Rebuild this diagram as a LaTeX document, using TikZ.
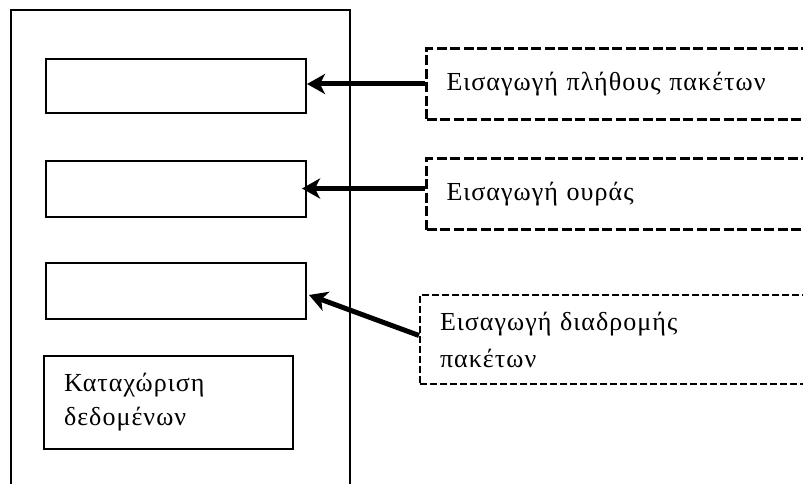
\documentclass[tikz,border=0pt]{standalone}
\usepackage{fontspec}
\setmainfont{Liberation Serif}[LetterSpace=4]
\usetikzlibrary{arrows.meta}
\begin{document}
\begin{tikzpicture}[x=1pt,y=-1pt,
  frame/.style={line width=1.8pt},
  inbox/.style={draw, line width=2pt, anchor=north west, inner sep=0pt,
    minimum width=260pt, minimum height=55pt},
  databox/.style={draw, line width=2pt, anchor=north west, inner xsep=20pt,
    minimum width=249pt, minimum height=93pt, text width=209pt, align=left,
    font=\fontsize{26}{34}\selectfont},
  inputbox/.style={draw, line width=3pt, dash pattern=on 10pt off 3.5pt,
    anchor=north west, inner xsep=20pt, minimum width=420pt,
    text width=380pt, align=left, font=\fontsize{26}{37}\selectfont},
  thinbox/.style={inputbox, line width=2pt, dash pattern=on 7pt off 3pt},
  arr/.style={line width=5pt, -{Stealth[length=18pt,width=20pt,inset=5pt]}}
]
\useasboundingbox (0,0) rectangle (803,484);
\clip (0,0) rectangle (803,484);
\fill[white] (0,0) rectangle (803,484);
% main frame (open at the bottom)
\draw[frame] (11,495) -- (11,10) -- (350,10) -- (350,495);
% inner boxes
\node[inbox, minimum height=54pt] (b1) at (45,58) {};
\node[inbox, minimum height=56pt] (b2) at (45,160) {};
\node[inbox, minimum height=56pt] (b3) at (45,262) {};
\node[databox] (b4) at (43,355) {Καταχώριση\\δεδομένων};
% input boxes
\node[inputbox, minimum height=71pt] (ia) at (425,47) {Εισαγωγή πλήθους πακέτων};
\node[inputbox, minimum height=71pt] (ib) at (425,157) {Εισαγωγή ουράς};
\node[thinbox, minimum height=89pt] (ic) at (419,294) {Εισαγωγή διαδρομής\\πακέτων};
% arrows
\draw[arr] (ia.west) -- (ia.west -| b1.east);
\draw[arr] ([yshift=5.5pt]ib.west) -- ([yshift=5.5pt,xshift=-5pt]ib.west -| b2.east);
\draw[arr] ([yshift=4pt]ic.west) -- ([xshift=2pt,yshift=-4pt]b3.east);
\end{tikzpicture}
\end{document}
